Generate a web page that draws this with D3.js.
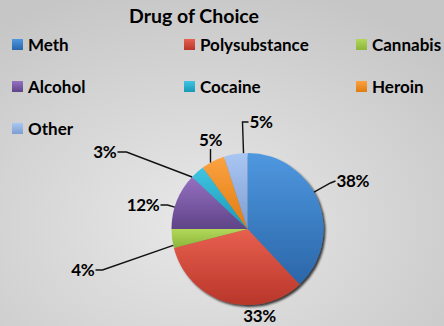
<!DOCTYPE html>
<html>
<head>
<meta charset="utf-8">
<script src="https://cdn.jsdelivr.net/npm/d3@7"></script>
<style>
  html, body { margin: 0; padding: 0; }
  body { width: 444px; height: 326px; overflow: hidden; }
  text { font-family: Lato, "Open Sans", sans-serif; font-weight: bold; fill: #000; }
</style>
</head>
<body>
<svg id="chart" width="444" height="326"></svg>
<script>
// Drug of choice shares (percent), in drawing order clockwise from 12 o'clock
const categories = ["Meth", "Polysubstance", "Cannabis", "Alcohol", "Cocaine", "Heroin", "Other"];
const values = [38, 33, 4, 12, 3, 5, 5];
const labels = ["38%", "33%", "4%", "12%", "3%", "5%", "5%"];

// Slice colours: light (top of gradient) and dark (bottom)
const colorsLight = ["#4f98e0", "#e8604f", "#b2d85a", "#9570c2", "#40c4e2", "#fca242", "#aac6f2"];
const colorsDark  = ["#2a66a8", "#b8362a", "#8cb53a", "#5f4487", "#1a98b8", "#de7c10", "#7d9ed2"];

// Leader-line layout, relative to the pie centre: elbow point and text side
const labelLayout = [
  { ex: 83, ey: -46, hx: 5, hy: -2, anchor: "start", pad: 0 },
  { ex: 12, ey: 87, hx: 0, hy: 0, anchor: "middle", pad: 0, noLine: true },
  { ex: -145, ey: 41, hx: -7, hy: 0, anchor: "end", pad: 2 },
  { ex: -80, ey: -24, hx: -7, hy: 0, anchor: "end", pad: 0 },
  { ex: -121, ey: -77, hx: -9, hy: 0, anchor: "end", pad: 0 },
  { ex: -37, ey: -67, hx: 0, hy: -13, anchor: "middle", pad: 0 },
  { ex: -5, ey: -107, hx: 6, hy: 0, anchor: "start", pad: 3 }
];

const svg = d3.select("#chart");
const W = 444, H = 326;
const cx = 247.5, cy = 229, R = 76;

const defs = svg.append("defs");

// Background gradient
const bg = defs.append("radialGradient").attr("id", "bg")
  .attr("cx", "45%").attr("cy", "68%").attr("r", "75%");
bg.append("stop").attr("offset", "0%").attr("stop-color", "#e8e8e8");
bg.append("stop").attr("offset", "100%").attr("stop-color", "#c6c6c6");
svg.append("rect").attr("width", W).attr("height", H).attr("fill", "url(#bg)");

// Per-category vertical gradients
categories.forEach((c, i) => {
  const g = defs.append("linearGradient").attr("id", "g" + i)
    .attr("x1", 0).attr("y1", 0).attr("x2", 0).attr("y2", 1);
  g.append("stop").attr("offset", "0%").attr("stop-color", colorsLight[i]);
  g.append("stop").attr("offset", "100%").attr("stop-color", colorsDark[i]);
});

// Soft shadow under the pie
const sh = defs.append("filter").attr("id", "shadow")
  .attr("x", "-20%").attr("y", "-20%").attr("width", "140%").attr("height", "140%");
sh.append("feDropShadow").attr("dx", 2).attr("dy", 2).attr("stdDeviation", 1.2)
  .attr("flood-color", "#000").attr("flood-opacity", 0.75);

// Title
svg.append("text").attr("x", 194).attr("y", 23).attr("text-anchor", "middle")
  .style("font-size", "19.5px").text("Drug of Choice");

// Legend: three columns
const legendCols = 3, colW = 172, rowH = 42;
const legend = svg.append("g").attr("transform", "translate(12,39)");
const item = legend.selectAll("g.item").data(categories).join("g")
  .attr("class", "item")
  .attr("transform", (d, i) => `translate(${(i % legendCols) * colW},${Math.floor(i / legendCols) * rowH})`);
item.append("rect").attr("width", 11).attr("height", 11)
  .attr("fill", (d, i) => `url(#g${i})`);
item.append("text").attr("x", 16).attr("y", 12)
  .style("font-size", "17px").text(d => d);

// Pie
const pie = d3.pie().sort(null).value(d => d)(values);
const arc = d3.arc().innerRadius(0).outerRadius(R);

const pieG = svg.append("g").attr("transform", `translate(${cx},${cy})`);
pieG.append("g").attr("filter", "url(#shadow)")
  .selectAll("path").data(pie).join("path")
  .attr("d", arc)
  .attr("fill", (d, i) => `url(#g${i})`);

// Data labels with leader lines
const lineGen = d3.line();
pie.forEach((d, i) => {
  const L = labelLayout[i];
  const ex = L.ex, ey = L.ey;
  const tx = ex + L.hx, ty = ey + L.hy;
  if (!L.noLine) {
    // attach point on the slice rim nearest the elbow direction
    let a = Math.atan2(ex, -ey);
    if (a < 0) a += 2 * Math.PI;
    const padA = (L.pad || 0) * Math.PI / 180;
    const lo = d.startAngle + padA, hi = d.endAngle - padA;
    a = Math.min(Math.max(a, lo), hi);
    const p0 = [Math.sin(a) * R, -Math.cos(a) * R];
    pieG.append("path")
      .attr("d", lineGen([p0, [ex, ey], [tx, ty]]))
      .attr("fill", "none").attr("stroke", "#111").attr("stroke-width", 1.4);
  }
  let textX = tx, textY = ty + 6;
  if (L.anchor === "start") textX = tx + 1;
  if (L.anchor === "end") textX = tx - 1;
  if (L.anchor === "middle" && L.hy < 0) textY = ty - 3;
  pieG.append("text")
    .attr("x", textX).attr("y", textY)
    .attr("text-anchor", L.anchor)
    .style("font-size", "17px").style("letter-spacing", "-0.3px")
    .text(labels[i]);
});
</script>
</body>
</html>
